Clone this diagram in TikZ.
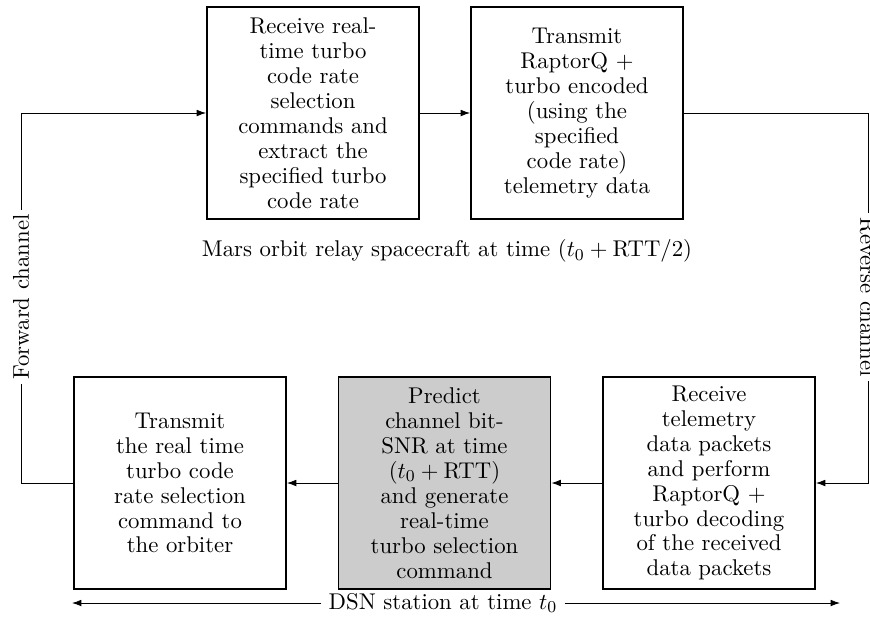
\documentclass[tikz,border=0pt]{standalone}
\usepackage{amsmath}
\usetikzlibrary{arrows.meta}
\tikzset{
  box/.style={draw, thick, minimum width=102pt, minimum height=102pt, align=center, inner sep=2pt},
  conn/.style={-{Latex[length=4.5pt,width=3.2pt]}},
  lbl/.style={fill=white, inner sep=2pt}
}
\begin{document}
\begin{tikzpicture}[x=0.4808pt, y=-0.4808pt, every node/.style={font=\fontsize{10.95pt}{12pt}\selectfont}]
\useasboundingbox (0,0) rectangle (870,630);
\node[box] (T1) at (313,113) {Receive real-\\time turbo\\code rate\\selection\\commands and\\extract the\\specified turbo\\code rate};
\node[box] (T2) at (577,113) {Transmit\\RaptorQ +\\turbo encoded\\(using the\\specified\\code rate)\\telemetry data};
\node[box] (A) at (180,483) {Transmit\\the real time\\turbo code\\rate selection\\command to\\the orbiter};
\node[box, fill=gray!40] (B) at (444.5,483) {Predict\\channel bit-\\SNR at time\\($t_0+\text{RTT}$)\\and generate\\real-time\\turbo selection\\command};
\node[box] (C) at (709,483) {Receive\\telemetry\\data packets\\and perform\\RaptorQ +\\turbo decoding\\of the received\\data packets};
\node (mars) at (447,251) {Mars orbit relay spacecraft at time $(t_0+\text{RTT}/2)$};
\coordinate (fl) at (21,0);
\coordinate (rr) at (868,0);
\coordinate (dl) at (72,603);
\coordinate (dr) at (840,603);
\draw[conn] (T1.east) -- (T2.west);
\draw[conn] (C.west) -- (B.east);
\draw[conn] (B.west) -- (A.east);
\draw[conn] (A.west) -| (fl |- T1.west) -- (T1.west);
\draw[conn] (T2.east) -| (rr |- C.east) -- (C.east);
\node[lbl, rotate=90] (fwd) at (21,297) {Forward channel};
\node[lbl, rotate=-90] (rev) at (868,297) {Reverse channel};
\node (dsn) at (443,603) {DSN station at time $t_0$};
\draw[conn] (dsn.west) -- (dl);
\draw[conn] (dsn.east) -- (dr);
\end{tikzpicture}
\end{document}
